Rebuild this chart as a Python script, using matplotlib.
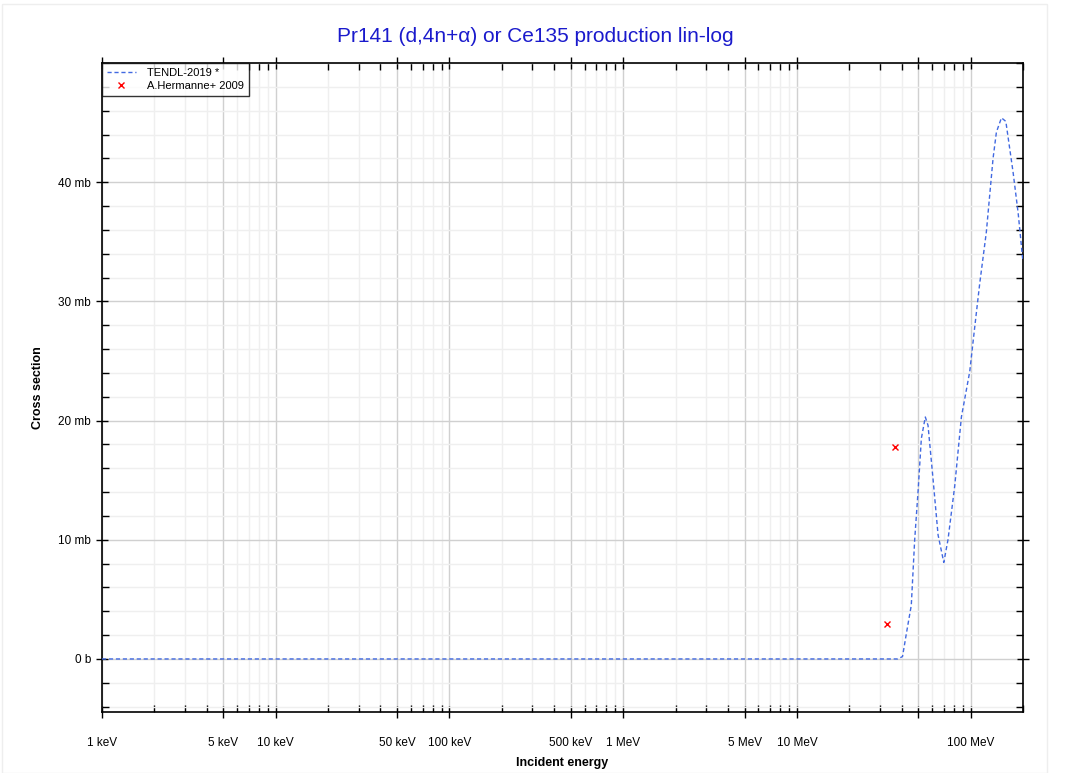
import matplotlib
matplotlib.use("Agg")
import matplotlib.pyplot as plt
import matplotlib.ticker as mticker
from matplotlib.patches import Rectangle

plt.rcParams["font.family"] = ["Liberation Sans", "DejaVu Sans"]

# TENDL-2019 evaluation: incident energy (MeV) vs cross section (mb)
tendl_e = [0.001, 0.01, 0.1, 1.0, 10.0, 30.0, 38.0, 40.5, 42.6, 45.5, 47.6, 49.8,
           52.0, 54.8, 56.8, 60.7, 64.9, 70.0, 74.0, 80.9, 88.4, 98.7, 105.4,
           112.7, 123.0, 134.5, 140.6, 150.3, 159.3, 175.5, 187.6, 198.7, 200.0]
tendl_xs = [0.0, 0.0, 0.0, 0.0, 0.0, 0.0, 0.0, 0.2, 2.1, 4.5, 10.0, 14.1,
            18.5, 20.3, 19.6, 15.1, 10.4, 8.1, 10.0, 14.5, 20.3, 24.1, 27.8,
            31.5, 35.8, 42.0, 44.2, 45.4, 45.1, 40.8, 37.4, 33.7, 33.5]

# A.Hermanne+ 2009 measurements
exp_e = [32.8, 36.6]
exp_xs = [2.9, 17.8]

major_ticks = [1e-3, 5e-3, 1e-2, 5e-2, 1e-1, 5e-1, 1, 5, 10, 50, 100]
major_labels = ["1 keV", "5 keV", "10 keV", "50 keV", "100 keV", "500 keV",
                "1 MeV", "5 MeV", "10 MeV", "", "100 MeV"]
y_ticks = [0, 10, 20, 30, 40]
y_labels = ["0 b", "10 mb", "20 mb", "30 mb", "40 mb"]

fig = plt.figure(figsize=(10.71, 7.73), dpi=100)
ax = fig.add_axes([102 / 1071, 61 / 773, 921 / 1071, 649 / 773])

fig.patches.append(Rectangle((2 / 1071, 0), 1045 / 1071, 769 / 773,
                             transform=fig.transFigure, fill=False,
                             edgecolor="#eeeeee", linewidth=1))

ax.plot(tendl_e, tendl_xs, color="#4169e1", linestyle=(0, (3, 2)), linewidth=1,
        label="TENDL-2019 *", zorder=3)
ax.plot(exp_e, exp_xs, linestyle="none", marker="x", color="red", markersize=4,
        markeredgewidth=1, label="A.Hermanne+ 2009", zorder=4)

ax.set_xscale("log")
ax.set_xlim(1e-3, 200)
ax.set_ylim(-4.45, 50)

ax.xaxis.set_major_locator(mticker.FixedLocator(major_ticks))
ax.xaxis.set_major_formatter(mticker.FixedFormatter(major_labels))
minor = []
for dec in [1e-3, 1e-2, 1e-1, 1, 10, 100]:
    for m in [2, 3, 4, 6, 7, 8, 9]:
        if dec * m <= 200:
            minor.append(dec * m)
ax.xaxis.set_minor_locator(mticker.FixedLocator(minor))
ax.xaxis.set_minor_formatter(mticker.NullFormatter())

ax.yaxis.set_major_locator(mticker.FixedLocator(y_ticks))
ax.yaxis.set_major_formatter(mticker.FixedFormatter(y_labels))
ax.yaxis.set_minor_locator(mticker.MultipleLocator(2))

ax.grid(True, which="major", color="#d0d0d0", linewidth=1)
ax.grid(True, which="minor", color="#efefef", linewidth=1)
ax.set_axisbelow(True)

ax.tick_params(which="both", top=True, right=True, labelsize=8.5, colors="black")
ax.tick_params(which="major", direction="inout", length=8, width=1)
ax.tick_params(which="minor", direction="in", length=5, width=1)
ax.tick_params(axis="x", which="major", pad=14)
ax.tick_params(axis="y", which="major", pad=4)
for s in ax.spines.values():
    s.set_linewidth(1.2)

ax.set_xlabel("Incident energy", fontsize=9, fontweight="bold", labelpad=6)
ax.set_ylabel("Cross section", fontsize=9, fontweight="bold", labelpad=10)
fig.text(0.5, 0.953, "Pr141 (d,4n+\u03b1) or Ce135 production lin-log",
         ha="center", va="center", fontsize=15, color="#1a1acc")

leg = ax.legend(loc="upper left", fontsize=8, frameon=True, fancybox=False,
                edgecolor="black", borderaxespad=0, handlelength=2.6,
                borderpad=0.45, labelspacing=0.25, handletextpad=1.0)
leg.get_frame().set_linewidth(1)

fig.savefig("out.png", dpi=100)
